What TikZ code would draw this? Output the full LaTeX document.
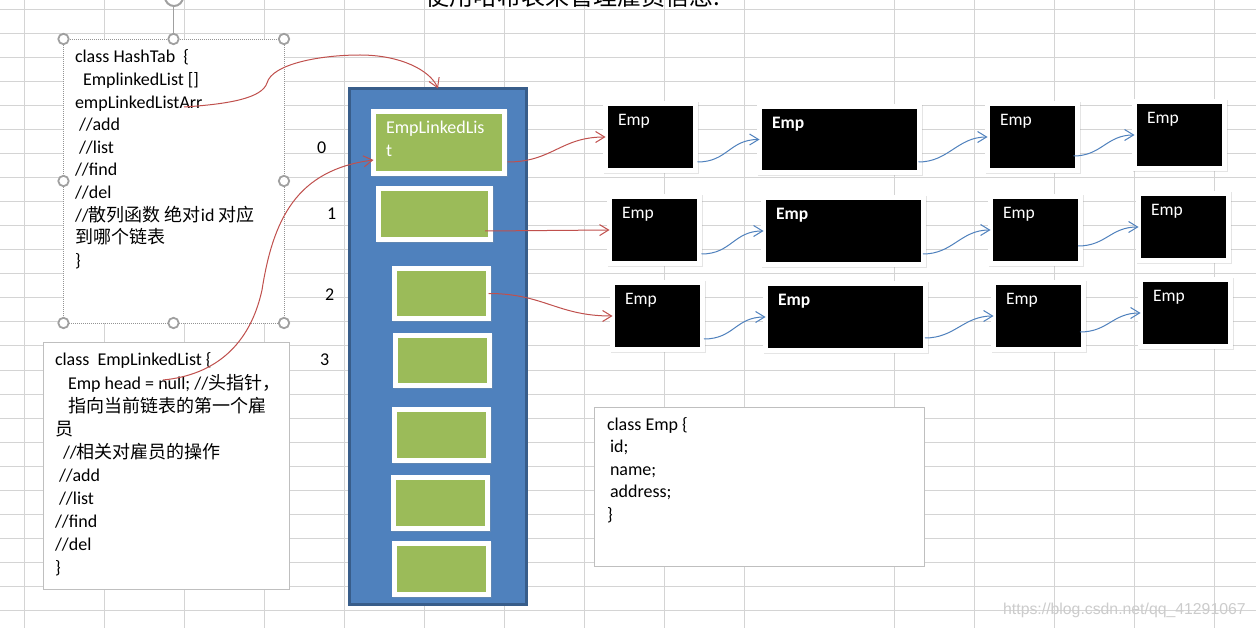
\documentclass[tikz,border=0pt]{standalone}
\usepackage{fontspec}
\setmainfont{Carlito}
\newfontfamily\cjk{Noto Sans CJK SC}
\newfontfamily\wmfont{Liberation Sans}
\usetikzlibrary{arrows.meta,shadows}
\definecolor{gridc}{HTML}{D4D4D4}
\definecolor{redc}{HTML}{C0504D}
\definecolor{bluec}{HTML}{4F81BD}
\definecolor{bluedk}{HTML}{385D8A}
\definecolor{greenc}{HTML}{9BBB59}
\definecolor{boxbd}{HTML}{BFBFBF}
\definecolor{handlec}{HTML}{A0A0A0}
\newcommand\EmpFontR{\fontsize{17.5}{20}\selectfont}
\newcommand\EmpFontB{\fontsize{17.5}{20}\selectfont\bfseries}
\tikzset{
  gridline/.style={draw=gridc, line width=1pt},
  code/.style={anchor=base west, inner sep=0pt, outer sep=0pt, font=\fontsize{18}{22}\selectfont},
  boxshadow/.style={general shadow={fill=black!40, draw=black!40, line width=5pt, shadow xshift=1pt, shadow yshift=-1.4pt, opacity=0.25}},
  empbox/.style={fill=black, draw=white, line width=5pt, inner sep=0pt, outer sep=0pt, boxshadow},
  grbox/.style={fill=greenc, draw=white, line width=5pt, inner sep=0pt, outer sep=0pt, boxshadow},
  etext/.style={anchor=base west, inner sep=0pt, outer sep=0pt, text=white},
  handle/.style={draw=handlec, line width=1.8pt, fill=white},
  redarr/.style={draw=redc, line width=1pt, -{Straight Barb[length=9pt,width=11pt]}},
  bluearr/.style={draw=bluec, line width=1pt, -{Straight Barb[length=9pt,width=11pt]}},
  plainbox/.style={draw=boxbd, line width=1pt, fill=white, inner sep=0pt, outer sep=0pt}
}
\newcommand\EmpBox[6]{%
  \node[empbox, minimum width={#4-#2-5}, minimum height={#5-#3-5}] (#1) at ({(#2+#4)/2},{(#3+#5)/2}) {};
  \node[etext, font=#6] (#1t) at ({#2+15},{#3+25}) {Emp};
}
\newcommand\GreenBox[5]{%
  \node[grbox, minimum width={#4-#2-5}, minimum height={#5-#3-5}] (#1) at ({(#2+#4)/2},{(#3+#5)/2}) {};
}
\begin{document}
\begin{tikzpicture}[x=1pt,y=-1pt]
\useasboundingbox (0,0) rectangle (1256,628);
\clip (0,0) rectangle (1256,628);
\fill[white] (0,0) rectangle (1256,628);
% grid
\foreach \gx in {24,104,184,264,344,424,504,584,664,744,894,974,1054,1134,1214}
  \draw[gridline] (\gx,0) -- (\gx,628);
\foreach \k in {0,...,25}
  \draw[gridline] (0,{10+24*\k}) -- (1256,{10+24*\k});

% title (cut off at the top, as in the reference)
\node[anchor=base west, inner sep=0pt, font=\cjk\fontsize{24}{28}\selectfont] (title) at (425,6) {使用哈希表来管理雇员信息.};

% HashTab box with selection handles
\node[draw=gray!85, dash pattern=on 1pt off 1pt, line width=0.8pt, fill=white, minimum width=221, minimum height=284, inner sep=0pt, outer sep=0pt] (hashtab) at (173.5,181) {};
\draw[handlec, line width=1.5pt] (173.5,34) -- (173.5,6);
\draw[handlec, line width=2pt] (174,-3) circle (9);
\foreach \p in {(63.5,39),(173.5,39),(284,39),(63.5,181),(284,181),(63.5,323),(173.5,323),(284,323)}
  \draw[handle] \p circle (5.2);
\node[code] (h1) at (75,63) {class HashTab\ \ \{};
\node[code] (h2) at (83,85.6) {EmplinkedList []};
\node[code] (h3) at (75,108.2) {empLinkedListArr};
\node[code] (h4) at (79,130.8) {//add};
\node[code] (h5) at (79,153.4) {//list};
\node[code] (h6) at (75,176) {//find};
\node[code] (h7) at (75,198.6) {//del};
\node[code] (h8) at (75,221.2) {//{\cjk 散列函数 绝对}id {\cjk 对应}};
\node[code] (h9) at (75,243.8) {{\cjk 到哪个链表}};
\node[code] (h10) at (75,266.4) {\}};

% EmpLinkedList box
\node[plainbox, minimum width=246, minimum height=246] (ell) at (166,466) {};
\node[code] (l1) at (55,366) {class\ \ EmpLinkedList \{};
\node[code] (l2) at (68,389.1) {Emp head = null; //{\cjk 头指针，}};
\node[code] (l3) at (68,412.2) {{\cjk 指向当前链表的第一个雇}};
\node[code] (l4) at (55,435.3) {{\cjk 员}};
\node[code] (l5) at (63,458.4) {//{\cjk 相关对雇员的操作}};
\node[code] (l6) at (59,481.5) {//add};
\node[code] (l7) at (59,504.6) {//list};
\node[code] (l8) at (55,527.7) {//find};
\node[code] (l9) at (55,550.8) {//del};
\node[code] (l10) at (55,573.9) {\}};

% class Emp box
\node[plainbox, minimum width=330, minimum height=159] (empcls) at (759,486.5) {};
\node[code] (c1) at (607,430) {class Emp \{};
\node[code] (c2) at (610,452.5) {id;};
\node[code] (c3) at (610,475) {name;};
\node[code] (c4) at (610,497.5) {address;};
\node[code] (c5) at (607,520) {\}};

% index numbers
\node[code] (n0) at (317,154) {0};
\node[code] (n1) at (327,220) {1};
\node[code] (n2) at (325,301) {2};
\node[code] (n3) at (320,366) {3};

% array container
\node[fill=bluec, draw=bluedk, line width=3pt, minimum width=177, minimum height=516, inner sep=0pt, outer sep=0pt] (blue) at (438,346.5) {};
\GreenBox{g0}{371}{109}{507}{176}
\GreenBox{g1}{376}{186}{493}{242}
\GreenBox{g2}{392}{266}{491}{321}
\GreenBox{g3}{393}{333}{492}{388}
\GreenBox{g4}{392}{407}{491}{463}
\GreenBox{g5}{391}{475}{490}{531}
\GreenBox{g6}{392}{541}{491}{597}
\node[code, text=white] (g0ta) at (386,134) {EmpLinkedLis};
\node[code, text=white] (g0tb) at (386,157) {t};

% Emp nodes
\EmpBox{e00}{603}{101}{698}{173}{\EmpFontR}
\EmpBox{e01}{757}{104}{922}{175}{\EmpFontB}
\EmpBox{e02}{985}{101}{1080}{173}{\EmpFontR}
\EmpBox{e03}{1132}{99}{1227}{171}{\EmpFontR}
\EmpBox{e10}{607}{194}{702}{266}{\EmpFontR}
\EmpBox{e11}{761}{195}{926}{267}{\EmpFontB}
\EmpBox{e12}{988}{194}{1083}{266}{\EmpFontR}
\EmpBox{e13}{1136}{191}{1231}{263}{\EmpFontR}
\EmpBox{e20}{610}{280}{705}{352}{\EmpFontR}
\EmpBox{e21}{763}{281}{928}{353}{\EmpFontB}
\EmpBox{e22}{991}{280}{1086}{352}{\EmpFontR}
\EmpBox{e23}{1138}{277}{1233}{349}{\EmpFontR}

% blue links
\draw[bluearr] ([xshift=2pt,yshift=-25pt]e00.east) to[out=0,in=180,distance=30pt] (e01.west);
\draw[bluearr] ([xshift=-1pt,yshift=-22.5pt]e01.east) to[out=0,in=180,distance=30pt] (e02.west);
\draw[bluearr] ([xshift=-4pt,yshift=-19pt]e02.east) to[out=0,in=180,distance=28pt] (e03.west);
\draw[bluearr] ([xshift=2pt,yshift=-24pt]e10.east) to[out=0,in=180,distance=30pt] (e11.west);
\draw[bluearr] ([xshift=-0.5pt,yshift=-23pt]e11.east) to[out=0,in=180,distance=30pt] (e12.west);
\draw[bluearr] ([xshift=-2.5pt,yshift=-16pt]e12.east) to[out=0,in=180,distance=28pt] (e13.west);
\draw[bluearr] ([xshift=1.5pt,yshift=-23pt]e20.east) to[out=0,in=180,distance=30pt] (e21.west);
\draw[bluearr] ([xshift=-0.5pt,yshift=-21pt]e21.east) to[out=0,in=180,distance=30pt] (e22.west);
\draw[bluearr] ([xshift=-3.5pt,yshift=-16pt]e22.east) to[out=0,in=180,distance=28pt] (e23.west);

% red links
\coordinate (hsrc) at (184,107);
\coordinate (lsrc) at (163,380);
\draw[redarr] (hsrc) .. controls (230,104) and (262,98) .. (267,83)
  .. controls (272,64) and (320,55) .. (360,55)
  .. controls (400,55) and (430,70) .. (blue.north);
\draw[redarr] (lsrc) .. controls (215,375) and (250,345) .. (262,290)
  .. controls (273,220) and (296,170) .. ([yshift=-17.5pt]g0.west);
\draw[redarr] ([xshift=3pt,yshift=-19.5pt]g0.east) to[out=0,in=180,distance=45pt] (e00.west);
\draw[redarr] ([xshift=-5.5pt,yshift=-17pt]g1.east) -- (e10.west);
\draw[redarr] (g2.east) to[out=0,in=180,distance=55pt] (e20.west);

% watermark
\node[anchor=base west, inner sep=0pt, font=\wmfont\fontsize{15.8}{18}\selectfont, text=black!20] (wm) at (1003,614) {https://blog.csdn.net/qq\_41291067};
\end{tikzpicture}
\end{document}
